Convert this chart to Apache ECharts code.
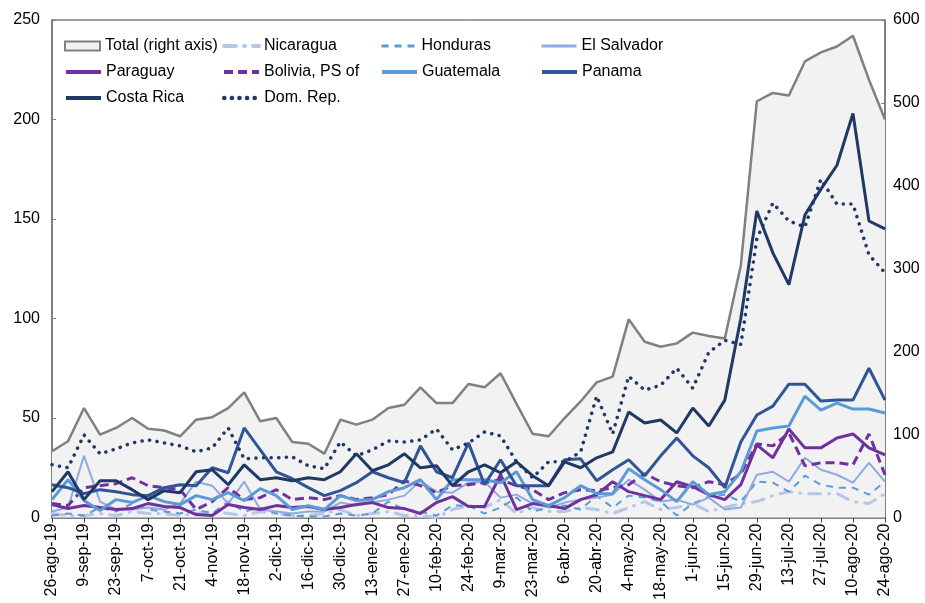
<!DOCTYPE html>
<html>
<head>
<meta charset="utf-8">
<script src="https://cdn.jsdelivr.net/npm/echarts@6/dist/echarts.min.js"></script>
<style>
  html, body { margin: 0; padding: 0; background: #fff; }
  #chart { width: 925px; height: 603px; }
</style>
</head>
<body>
<div id="chart"></div>
<script>
// semanas, del 26-ago-19 al 24-ago-20
var weeks = ['26-ago-19','2-sep-19','9-sep-19','16-sep-19','23-sep-19','30-sep-19','7-oct-19','14-oct-19','21-oct-19','28-oct-19',
  '4-nov-19','11-nov-19','18-nov-19','25-nov-19','2-dic-19','9-dic-19','16-dic-19','23-dic-19','30-dic-19','6-ene-20',
  '13-ene-20','20-ene-20','27-ene-20','3-feb-20','10-feb-20','17-feb-20','24-feb-20','2-mar-20','9-mar-20','16-mar-20',
  '23-mar-20','30-mar-20','6-abr-20','13-abr-20','20-abr-20','27-abr-20','4-may-20','11-may-20','18-may-20','25-may-20',
  '1-jun-20','8-jun-20','15-jun-20','22-jun-20','29-jun-20','6-jul-20','13-jul-20','20-jul-20','27-jul-20','3-ago-20',
  '10-ago-20','17-ago-20','24-ago-20']

// eje derecho
var total = [80,92,132,100,108,120,107,105,98,118,121,132,151,116,120,91,89,77,118,112,
  118,132,136,157,138,138,161,157,174,137,101,98,120,140,163,170,239,212,206,210,
  223,219,216,304,502,512,509,550,561,568,581,528,480]

var nicaragua = [2,1,1,2,1,3,2,2,1,2,3,2,1,3,2,1,1,2,4,1,2,3,1,1,0,4,6,5,9,2,5,3,3,5,4,2,5,8,4,5,7,3,5,7,8,11,13,12,12,12,8,7,12]
var honduras = [1,2,1,5,3,7,4,3,2,4,2,8,3,5,2,1,0.5,0.5,2,1,2,8,4,3,1,6,6,2,5,10,3,5,6,4,11,
  5,11,10,8,1,7,10.5,11.5,8,18,17.5,13,21,16.5,15,15,11.5,18]
var elSalvador = [3,5,31,8,4,4,5,4,7,18,16,7,18,4,3,2,3,3,
  7.5,6,7.5,9,11,18.5,13,12.5,17.5,18,10,11.5,7,5,7.5,9,10,11.5,
  19,14,8,9,6.5,10,4,5,21.5,23,18,30,24,21.5,17.5,27.5,18]
var paraguay = [6.5,4.5,6,5,4,4.5,7,5.5,5,1.5,1,6.5,5,4,6,5,5.5,4,
  5,6.5,7.5,5,4.5,2,7.5,10.5,5.5,5.5,21.5,4,7,6,4.5,9,11.5,18,
  13,11,9,18,15.5,11.5,9,16.5,36.5,30,44.5,35,35,40,42,35,31.5]
var bolivia = [7,6,15,16,17,20,16,15,14,4,8,15,9,10,14,9,
  10,9,11,9,10,11.5,18.5,16,12.5,16,16.5,17.5,19,16,14,9,12.5,14,13.5,
  15,16.5,22,18,16,15,18,16.5,22,37,36,42.5,26,27.5,27.5,26.5,42,21.5]
var guatemala = [9,19,8.5,3.5,9,7.5,11,8,6.5,11,9,12.5,8.5,14.5,11,4,
  6,4,11,8.5,9,13,15,19,9,19,19,19,17.5,23,9,6,10,16,
  12,12,24.5,19,14,8,18,11.5,13,23,43.5,45,46,61,54,57.5,54.5,54.5,52.5]
var panama = [16.5,15,12,14,13,11.5,11,15,16.5,16,25,22.5,45,34,23,19.5,
  15,11,13.5,17.5,23,20,17.5,36,23,20,37.5,16.5,29,16,16,16,29,29.5,18.5,24,
  29,21,31,40,31,25,15,38,51.5,56,67,67,58.5,59,59,75,59]
var costaRica = [13,23,9,18.5,18.5,14,9,13.5,12.5,23,24,16.5,26.5,19,20,18.5,20,19,23,32,
  23.5,26.5,32,25,26,16,23,26.5,22.5,28,21,16,28,25,30,33,53,47.5,49,42.5,
  55,46,59,100,154,133,117,152,165,177,203,149,145]
var domRep = [26.5,25,41.5,32,34.5,37.5,39,37.5,36,33,35,45,29.5,30,30,30.5,26,24.5,38,31,
  34,38.5,38,39,44.5,34,37.5,43,41,28,20,28,28,33,61,42,71,64,66.5,75,
  65,83,89,87,140,158,149,146,170,157.5,157.5,132,123]

var font = 'Liberation Sans, Arial, sans-serif'

function line(name, data, color, width, type, cap) {
  return {
    name: name, type: 'line', data: data, yAxisIndex: 0,
    symbol: 'none', showSymbol: false,
    lineStyle: { color: color, width: width, type: type || 'solid', cap: cap || 'butt' },
    itemStyle: { color: color }
  }
}

var series = [
  {
    name: 'Total (right axis)', type: 'line', data: total, yAxisIndex: 1,
    symbol: 'none', showSymbol: false, z: 1,
    lineStyle: { color: '#808080', width: 2.5 },
    itemStyle: { color: '#808080' },
    areaStyle: { color: '#f2f2f2', opacity: 1 }
  },
  line('Nicaragua', nicaragua, '#b4c7e7', 3, [12, 8, 1, 8], 'round'),
  line('Honduras', honduras, '#5b9bd5', 2, [7, 6]),
  line('El Salvador', elSalvador, '#8faadc', 2),
  line('Paraguay', paraguay, '#7030a0', 3),
  line('Bolivia, PS of', bolivia, '#7030a0', 3, [9, 5]),
  line('Guatemala', guatemala, '#5b9bd5', 3),
  line('Panama', panama, '#2f5597', 3),
  line('Costa Rica', costaRica, '#203864', 3),
  line('Dom. Rep.', domRep, '#203864', 3.5, [0.1, 7.5], 'round')
]

// una leyenda por elemento, en 3 filas
var legendPos = [[64,38],[222,38],[380,38],[540,38],[64,64],[222,64],[380,64],[540,64],[64,90],[222,90]]
var legends = series.map(function (s, i) {
  var item = { name: s.name }
  if (i === 0) {
    item.icon = 'rect'
    item.itemStyle = { color: '#f2f2f2', borderColor: '#808080', borderWidth: 2 }
  } else {
    item.itemStyle = { opacity: 0 }
    item.lineStyle = { width: s.lineStyle.width + 1 }
  }
  return {
    data: [item], left: legendPos[i][0], top: legendPos[i][1], padding: 0,
    itemWidth: 35, itemHeight: i === 0 ? 9 : 14, selectedMode: false,
    textStyle: { fontFamily: font, fontSize: 16, color: '#000' }
  }
})

var chart = echarts.init(document.getElementById('chart'))
chart.setOption({
  animation: false,
  backgroundColor: '#fff',
  legend: legends,
  grid: { left: 52, right: 40, top: 20, bottom: 83, show: true, borderColor: '#404040', borderWidth: 1, containLabel: false },
  xAxis: {
    type: 'category', data: weeks, boundaryGap: false,
    axisLine: { lineStyle: { color: '#808080', width: 2 } },
    axisTick: { interval: 1, length: 5, lineStyle: { color: '#404040' } },
    axisLabel: { interval: 1, rotate: 90, margin: 6, fontFamily: font, fontSize: 16, color: '#000' },
    splitLine: { show: false }
  },
  yAxis: [
    {
      type: 'value', min: 0, max: 250, interval: 50,
      axisLine: { show: true, lineStyle: { color: '#808080', width: 2 } },
      axisTick: { show: true, inside: true, length: 4, lineStyle: { color: '#808080' } },
      axisLabel: { margin: 12, fontFamily: font, fontSize: 16, color: '#000' },
      splitLine: { show: false }
    },
    {
      type: 'value', min: 0, max: 600, interval: 100, position: 'right',
      axisLine: { show: true, lineStyle: { color: '#808080', width: 2 } },
      axisTick: { show: true, inside: true, length: 4, lineStyle: { color: '#808080' } },
      axisLabel: { margin: 8, fontFamily: font, fontSize: 16, color: '#000' },
      splitLine: { show: false }
    }
  ],
  series: series
})
</script>
</body>
</html>
